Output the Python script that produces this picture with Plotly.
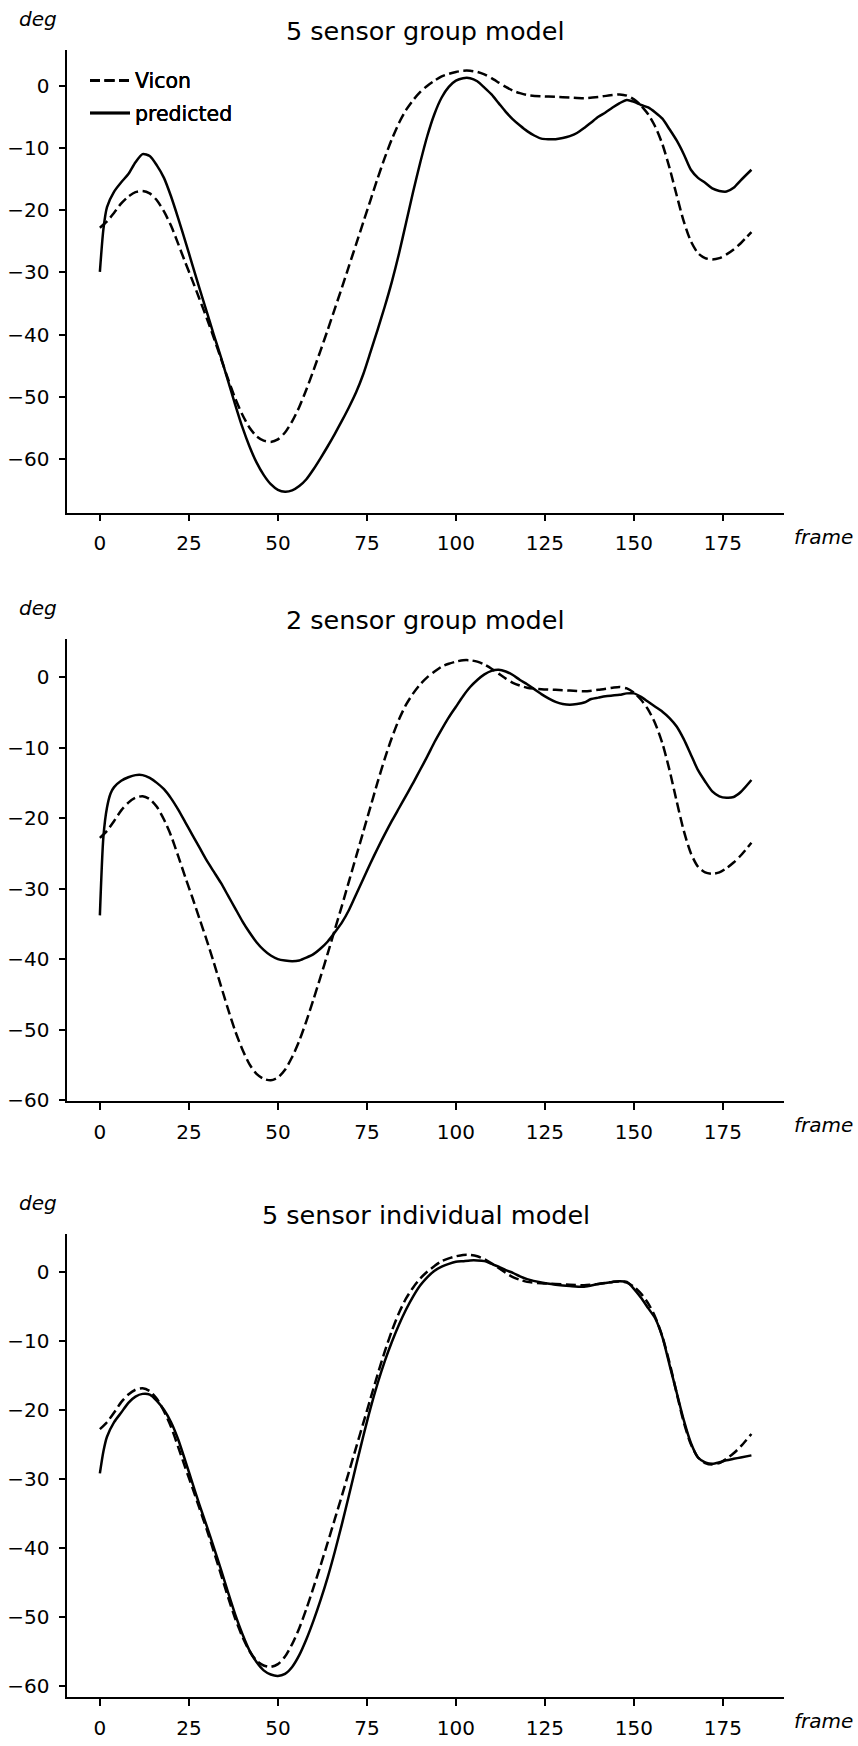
import plotly.graph_objects as go

# ---------------- data ----------------
vicon_frames = [0, 2, 4, 6, 8, 10, 12, 14, 16, 18, 20, 22, 24, 26, 28, 30, 32, 34, 36, 38,
                40, 42, 44, 46, 48, 50, 52, 54, 56, 58, 60, 62, 64, 66, 68, 70, 72, 74, 76, 78,
                80, 82, 84, 86, 88, 90, 92, 94, 96, 98, 100, 102, 104, 106, 108, 110, 112, 114,
                116, 118, 120, 124, 128, 132, 136, 140, 144, 146, 148, 150, 152, 154, 156, 158,
                160, 162, 164, 166, 168, 170, 172, 174, 176, 178, 180, 183]
vicon = [-22.8, -21.8, -20.4, -18.9, -17.8, -17.1, -16.9, -17.3, -18.4, -20.2, -22.5, -25.4,
         -28.4, -31.3, -34.3, -37.3, -40.5, -43.8, -47.1, -50.2, -52.8, -54.9, -56.3, -57.0,
         -57.2, -56.8, -55.7, -53.9, -51.6, -48.8, -45.7, -42.5, -39.2, -35.8, -32.4, -28.9,
         -25.4, -21.9, -18.4, -14.9, -11.6, -8.6, -6.0, -3.9, -2.3, -1.0, 0.0, 0.8, 1.5, 1.9,
         2.2, 2.4, 2.4, 2.2, 1.8, 1.2, 0.5, -0.2, -0.8, -1.2, -1.5, -1.7, -1.8, -1.9, -2.0,
         -1.8, -1.5, -1.4, -1.6, -2.2, -3.2, -4.6, -6.6, -9.4, -13.2, -17.6, -21.8, -25.0,
         -26.9, -27.7, -27.9, -27.7, -27.1, -26.3, -25.3, -23.5]

p1_frames = [0, 1, 2, 4, 6, 8, 10, 12, 14, 16, 18, 20, 22, 24, 26, 28, 30, 32, 34, 36, 38, 40,
             42, 44, 46, 48, 50, 52, 54, 56, 58, 60, 62, 64, 66, 68, 70, 72, 74, 76, 78, 80, 82,
             84, 86, 88, 90, 92, 94, 96, 98, 100, 102, 104, 106, 108, 110, 112, 114, 116, 118,
             120, 122, 124, 126, 128, 130, 132, 134, 136, 138, 140, 142, 144, 146, 148, 150,
             152, 154, 156, 158, 160, 162, 164, 166, 168, 170, 172, 174, 176, 178, 180, 183]
pred_5group = [-29.9, -23.0, -19.5, -17.0, -15.5, -14.2, -12.3, -11.0, -11.3, -12.8, -14.8,
               -17.8, -21.3, -25.0, -28.8, -32.6, -36.3, -40.0, -43.6, -47.4, -51.2, -54.8,
               -57.9, -60.5, -62.5, -64.0, -64.9, -65.2, -65.0, -64.3, -63.2, -61.6, -59.8,
               -57.9, -55.9, -53.8, -51.6, -49.2, -46.3, -42.8, -39.2, -35.5, -31.5, -27.0,
               -22.0, -17.0, -12.3, -8.0, -4.5, -1.9, -0.2, 0.8, 1.2, 1.2, 0.7, -0.3, -1.4,
               -2.8, -4.2, -5.4, -6.4, -7.3, -8.0, -8.5, -8.6, -8.6, -8.4, -8.1, -7.6, -6.8,
               -5.9, -5.0, -4.3, -3.5, -2.8, -2.3, -2.6, -3.1, -3.5, -4.3, -5.3, -7.0, -8.8,
               -11.0, -13.5, -14.8, -15.6, -16.5, -16.9, -17.0, -16.4, -15.2, -13.5]

p2_frames = [0, 1, 2, 3, 4, 6, 8, 10, 12, 14, 16, 18, 20, 22, 24, 26, 28, 30, 32, 34, 36, 38,
             40, 42, 44, 46, 48, 50, 52, 54, 56, 58, 60, 62, 64, 66, 68, 70, 72, 74, 76, 78, 80,
             82, 84, 86, 88, 90, 92, 94, 96, 98, 100, 102, 104, 106, 108, 110, 112, 114, 116,
             118, 120, 122, 124, 126, 128, 130, 132, 134, 136, 138, 140, 142, 144, 146, 148,
             150, 152, 154, 156, 158, 160, 162, 164, 166, 168, 170, 172, 174, 176, 178, 180, 183]
pred_2group = [-33.8, -22.6, -18.5, -16.5, -15.6, -14.7, -14.2, -13.9, -13.9, -14.3, -15.0,
               -15.9, -17.2, -18.8, -20.6, -22.4, -24.2, -26.0, -27.6, -29.2, -31.0, -32.8,
               -34.6, -36.2, -37.6, -38.7, -39.5, -40.0, -40.2, -40.3, -40.2, -39.8, -39.3,
               -38.5, -37.5, -36.2, -34.8, -33.0, -30.8, -28.6, -26.4, -24.3, -22.3, -20.4,
               -18.6, -16.8, -15.0, -13.1, -11.2, -9.2, -7.4, -5.7, -4.2, -2.7, -1.4, -0.4,
               0.4, 0.9, 1.05, 0.8, 0.3, -0.4, -1.0, -1.7, -2.4, -3.0, -3.5, -3.8, -3.9, -3.8,
               -3.6, -3.1, -2.9, -2.7, -2.6, -2.5, -2.3, -2.3, -2.8, -3.5, -4.2, -4.9, -5.8,
               -7.0, -8.8, -11.0, -13.2, -14.8, -16.2, -16.9, -17.1, -17.0, -16.3, -14.6]

p3_frames = [0, 1, 2, 4, 6, 8, 10, 12, 14, 16, 18, 20, 22, 24, 26, 28, 30, 32, 34, 36, 38, 40,
             42, 44, 46, 48, 50, 52, 54, 56, 58, 60, 62, 64, 66, 68, 70, 72, 74, 76, 78, 80, 82,
             84, 86, 88, 90, 92, 94, 96, 98, 100, 102, 104, 106, 108, 110, 112, 114, 116, 118,
             120, 124, 128, 132, 136, 140, 144, 146, 148, 150, 152, 154, 156, 158, 160, 162,
             164, 166, 168, 170, 172, 174, 176, 178, 180, 183]
pred_5indiv = [-29.2, -26.0, -23.9, -21.8, -20.4, -19.0, -18.1, -17.7, -17.8, -18.7, -20.0,
               -21.8, -24.3, -27.4, -30.6, -33.8, -36.8, -39.9, -43.1, -46.4, -49.6, -52.4,
               -54.8, -56.5, -57.7, -58.3, -58.5, -58.2, -57.2, -55.5, -53.2, -50.5, -47.5,
               -44.2, -40.5, -36.5, -32.3, -28.0, -23.8, -19.8, -16.2, -13.0, -10.2, -7.7,
               -5.5, -3.6, -2.0, -0.8, 0.1, 0.7, 1.1, 1.4, 1.5, 1.6, 1.6, 1.5, 1.1, 0.7, 0.2,
               -0.2, -0.7, -1.1, -1.6, -1.9, -2.1, -2.2, -1.8, -1.5, -1.4, -1.5, -2.5, -3.8,
               -5.3, -6.8, -9.5, -13.5, -17.5, -21.5, -24.8, -26.9, -27.6, -27.8, -27.6, -27.3,
               -27.1, -26.9, -26.6]

panel_titles = ["5 sensor group model", "2 sensor group model", "5 sensor individual model"]
x_ticks = [0, 25, 50, 75, 100, 125, 150, 175]
series_names = ["Vicon", "predicted"]

# ---------------- layout geometry (pixels of the 858x1746 page) ----------------
W, H = 858, 1746
AX_LEFT, AX_RIGHT = 67.3, 784.0
panels_px = [(50.0, 516.0), (643.3, 1108.3), (1241.7, 1707.7)]  # (top, bottom)

FONT = "DejaVu Sans"
TXT = "#000000"


def px_x(v):
    return v / W


def px_y(v):
    return 1 - v / H


fig = go.Figure()
preds = [(p1_frames, pred_5group), (p2_frames, pred_2group), (p3_frames, pred_5indiv)]

for i, (pf, pv) in enumerate(preds):
    n = "" if i == 0 else str(i + 1)
    xa, ya = "x" + n, "y" + n
    leg = "legend" + n
    fig.add_trace(go.Scatter(x=vicon_frames, y=vicon, mode="lines", name=series_names[0],
                             line=dict(color="black", width=2.5, dash="10px,4.5px", shape="spline",
                                       smoothing=0.7),
                             legendgroup="v%d" % i,
                             xaxis=xa, yaxis=ya, legend=leg))
    fig.add_trace(go.Scatter(x=pf, y=pv, mode="lines", name=series_names[1],
                             line=dict(color="black", width=2.5, shape="spline", smoothing=0.7),
                             legendgroup="p%d" % i,
                             xaxis=xa, yaxis=ya, legend=leg))

    ymin = min(min(vicon), min(pv))
    ymax = max(max(vicon), max(pv))
    span = ymax - ymin
    xmin, xmax = 0, 183
    xspan = xmax - xmin
    top, bot = panels_px[i]

    common = dict(showline=True, linecolor="black", linewidth=1.5, ticks="outside", ticklen=7,
                  tickwidth=1.5, tickcolor="black", showgrid=False, zeroline=False,
                  tickfont=dict(family=FONT, size=20, color=TXT), ticklabelstandoff=5)
    fig.update_layout(**{
        "xaxis" + n: dict(domain=[px_x(AX_LEFT), px_x(AX_RIGHT)],
                          range=[xmin - 0.05 * xspan, xmax + 0.05 * xspan],
                          tickvals=x_ticks, anchor=ya, **common),
        "yaxis" + n: dict(domain=[px_y(bot), px_y(top)],
                          range=[ymin - 0.05 * span, ymax + 0.05 * span],
                          dtick=10, tick0=0, anchor=xa, **common),
        leg: dict(x=px_x(85), y=px_y(61), xanchor="left", yanchor="top",
                  bgcolor="rgba(0,0,0,0)", borderwidth=0,
                  font=dict(family=FONT, size=20.5, color=TXT),
                  traceorder="grouped", tracegroupgap=3, itemwidth=40),
    })

    fig.add_annotation(text=panel_titles[i], xref="paper", yref="paper",
                       x=px_x((AX_LEFT + AX_RIGHT) / 2), y=px_y(top - 19), xanchor="center",
                       yanchor="middle", showarrow=False,
                       font=dict(family=FONT, size=25.5, color=TXT))
    fig.add_annotation(text="<i>deg</i>", xref="paper", yref="paper",
                       x=px_x(38.3), y=px_y(top - 31), xanchor="center", yanchor="middle",
                       showarrow=False, font=dict(family=FONT, size=20, color=TXT))
    fig.add_annotation(text="<i>frame</i>", xref="paper", yref="paper",
                       x=px_x(792), y=px_y(bot + 24), xanchor="left", yanchor="middle",
                       showarrow=False, font=dict(family=FONT, size=20, color=TXT))

fig.update_layout(width=W, height=H, margin=dict(l=0, r=0, t=0, b=0),
                  paper_bgcolor="white", plot_bgcolor="white", showlegend=True)

fig.write_html("out.html")
